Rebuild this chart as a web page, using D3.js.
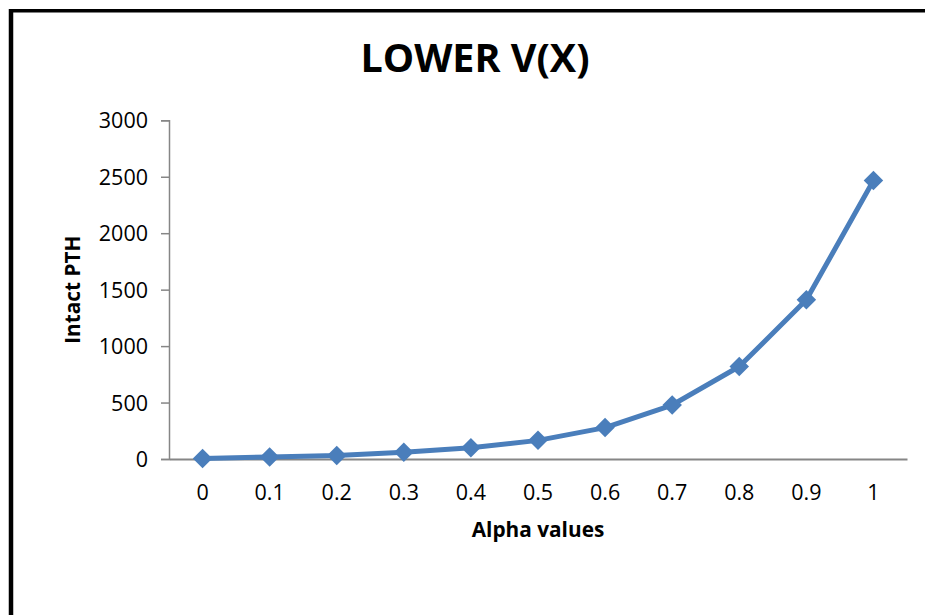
<!DOCTYPE html>
<html>
<head>
<meta charset="utf-8">
<script src="https://cdn.jsdelivr.net/npm/d3@7"></script>
<style>
  html, body { margin: 0; padding: 0; background: #fff; }
  svg { display: block; }
  text { font-family: "Open Sans", "Liberation Sans", sans-serif; fill: #000; }
</style>
</head>
<body>
<svg id="chart" width="925" height="615"></svg>
<script>
// Alpha values on the x axis and the intact PTH reading at each
const alphaLabels = ["0", "0.1", "0.2", "0.3", "0.4", "0.5", "0.6", "0.7", "0.8", "0.9", "1"];
const pthValues = [5, 18, 32, 60, 100, 165, 278, 478, 819, 1410, 2466];
const yTickValues = [0, 500, 1000, 1500, 2000, 2500, 3000];

const chartTitle = "LOWER V(X)";
const xTitle = "Alpha values";
const yTitle = "Intact PTH";

const svg = d3.select("#chart");
const W = 925, H = 615;

// outer frame
svg.append("rect").attr("width", W).attr("height", H).attr("fill", "#fff");
svg.append("line").attr("x1", 11).attr("x2", 11).attr("y1", 9).attr("y2", H)
  .attr("stroke", "#000").attr("stroke-width", 4.5);
svg.append("line").attr("x1", 9).attr("x2", W).attr("y1", 10.7).attr("y2", 10.7)
  .attr("stroke", "#000").attr("stroke-width", 3.5);

const plot = { left: 169, right: 907, top: 120.3, bottom: 459 };

const x = d3.scaleBand().domain(alphaLabels).range([plot.left, plot.right]).paddingInner(0).paddingOuter(0);
const y = d3.scaleLinear().domain([0, 3000]).range([plot.bottom, plot.top]);

const axisColor = "#868686";
const tickFont = 21.5;

// y axis
const yAxis = svg.append("g").attr("transform", `translate(${plot.left},0)`)
  .call(d3.axisLeft(y).tickValues(yTickValues).tickSize(8).tickPadding(13).tickFormat(d3.format("d")));
yAxis.attr("font-size", tickFont).attr("font-family", "'Open Sans', sans-serif");
yAxis.select(".domain").attr("stroke", axisColor).attr("stroke-width", 1.5);
yAxis.selectAll(".tick line").attr("stroke", axisColor).attr("stroke-width", 1.5);
yAxis.selectAll(".tick text").attr("fill", "#000").attr("dy", "0.35em");

// x axis (no tick marks)
const xAxis = svg.append("g").attr("transform", `translate(0,${plot.bottom})`)
  .call(d3.axisBottom(x).tickSize(0).tickPadding(33).tickSizeOuter(0));
xAxis.attr("font-size", tickFont).attr("font-family", "'Open Sans', sans-serif");
xAxis.select(".domain").attr("stroke", axisColor).attr("stroke-width", 2);
xAxis.selectAll(".tick text").attr("fill", "#000").attr("dy", "0.35em");

// titles
svg.append("text").attr("x", 475).attr("y", 72).attr("text-anchor", "middle")
  .attr("font-size", 39.5).attr("font-weight", "bold").text(chartTitle);
svg.append("text").attr("x", (plot.left + plot.right) / 2).attr("y", 537).attr("text-anchor", "middle")
  .attr("font-size", 20.8).attr("font-weight", "bold").text(xTitle);
svg.append("text")
  .attr("transform", `translate(80,${(plot.top + plot.bottom) / 2}) rotate(-90)`)
  .attr("text-anchor", "middle").attr("font-size", 20.8).attr("font-weight", "bold").text(yTitle);

// series line and diamond markers
const points = alphaLabels.map((a, i) => ({ a, v: pthValues[i] }));
const cx = d => x(d.a) + x.bandwidth() / 2;
const seriesColor = "#4A7EBB";

svg.append("path").datum(points)
  .attr("d", d3.line().x(cx).y(d => y(d.v)))
  .attr("fill", "none").attr("stroke", seriesColor).attr("stroke-width", 5)
  .attr("stroke-linejoin", "round");

svg.append("g").selectAll("path").data(points).join("path")
  .attr("d", d3.symbol(d3.symbolSquare, 190))
  .attr("transform", d => `translate(${cx(d)},${y(d.v)}) rotate(45)`)
  .attr("fill", seriesColor);
</script>
</body>
</html>
